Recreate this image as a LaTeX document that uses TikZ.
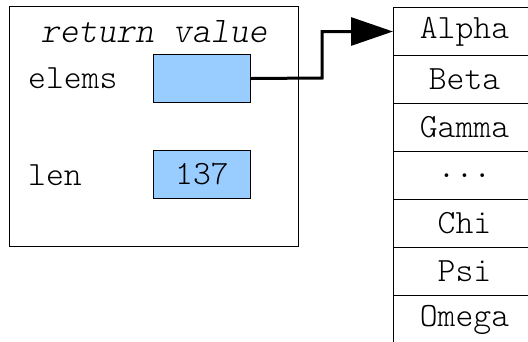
\documentclass[tikz,border=0pt]{standalone}
\usepackage{fontspec}
\setmonofont{lmmonolt10-regular.otf}[ItalicFont=lmmonolt10-oblique.otf]
\usetikzlibrary{arrows.meta}
\begin{document}
\begin{tikzpicture}[x=1pt,y=-1pt,
  txt/.style={font=\fontsize{34}{36}\selectfont\ttfamily},
  lbl/.style={txt, inner sep=0pt},
  field/.style={draw=black, line width=1pt, fill={rgb,255:red,153;green,204;blue,255}, minimum width=97pt, minimum height=48pt, inner sep=0pt, anchor=north west},
  cell/.style={txt, draw=black, line width=1pt, fill=white, minimum width=142pt, minimum height=48pt, inner sep=0pt, anchor=north west},
  ptr/.style={line width=3pt, -{Triangle[length=42pt,width=28pt]}}]
\useasboundingbox (0,0) rectangle (528,341);
\begin{scope}
\clip (0,0) rectangle (528,341);
\node[draw=black, line width=1pt, minimum width=289pt, minimum height=240pt, anchor=north west, inner sep=0pt] (frame) at (9,6) {};
\node[inner sep=0pt, font=\fontsize{36}{38}\selectfont\ttfamily\itshape] (title) at (154,32) {return value};
\node[lbl, anchor=west] (lelems) at (28,78) {elems};
\node[lbl, anchor=west] (llen) at (28,175) {len};
\node[field] (elems) at (153,54) {};
\node[field, txt] (len) at (153,150) {137};
\node[cell] (c1) at (393,7) {Alpha};
\node[cell] (c2) at (393,55) {Beta};
\node[cell] (c3) at (393,103) {Gamma};
\node[cell] (c4) at (393,151) {...};
\node[cell] (c5) at (393,199) {Chi};
\node[cell] (c6) at (393,247) {Psi};
\node[cell] (c7) at (393,295) {Omega};
\coordinate (bend) at (322,78);
\draw[ptr, line join=miter] (elems.east) -- (bend) |- (c1.west);
\end{scope}
\end{tikzpicture}
\end{document}
